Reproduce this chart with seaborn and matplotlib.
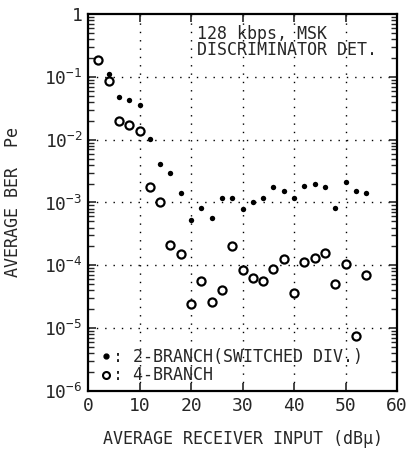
import numpy as np
import pandas as pd
import matplotlib
matplotlib.use("Agg")
import matplotlib.pyplot as plt
import seaborn as sns
from matplotlib.ticker import FixedLocator, FuncFormatter, LogLocator, NullFormatter
from matplotlib.lines import Line2D

# data
input_2branch = [4, 6, 8, 10, 12, 14, 16, 18, 20, 22, 24, 26, 28, 30, 32, 34,
                 36, 38, 40, 42, 44, 46, 48, 50, 52, 54]
ber_2branch = [0.109, 0.047, 0.042, 0.035, 0.0101, 0.0041, 0.0029, 0.0014,
               5.2e-4, 8.3e-4, 5.6e-4, 1.2e-3, 1.2e-3, 7.8e-4, 1.03e-3, 1.2e-3,
               1.78e-3, 1.5e-3, 1.2e-3, 1.84e-3, 2.0e-3, 1.78e-3, 8.2e-4, 2.1e-3,
               1.5e-3, 1.44e-3]
input_4branch = [2, 4, 6, 8, 10, 12, 14, 16, 18, 20, 22, 24, 26, 28, 30, 32, 34,
                 36, 38, 40, 42, 44, 46, 48, 50, 52, 54]
ber_4branch = [0.185, 0.085, 0.020, 0.017, 0.0138, 1.76e-3, 1.03e-3, 2.1e-4, 1.5e-4,
               2.4e-5, 5.7e-5, 2.6e-5, 4.0e-5, 2.0e-4, 8.5e-5, 6.3e-5, 5.7e-5,
               8.7e-5, 1.27e-4, 3.6e-5, 1.14e-4, 1.3e-4, 1.55e-4, 5.0e-5, 1.06e-4,
               7.5e-6, 7.1e-5]

df2 = pd.DataFrame({"x": input_2branch, "ber": ber_2branch})
df4 = pd.DataFrame({"x": input_4branch, "ber": ber_4branch})

sns.set_style("ticks")
plt.rcParams["font.family"] = ["DejaVu Sans Mono", "DejaVu Sans"]
plt.rcParams["mathtext.default"] = "regular"

fig = plt.figure(figsize=(4.14, 4.51), dpi=100)
ax = fig.add_axes([0.2126, 0.133, 0.7464, 0.836])

ax.set_yscale("log")
ax.set_xlim(0, 60)
ax.set_ylim(1e-6, 1)

# dotted grid
for gx in [10, 20, 30, 40, 50]:
    ax.axvline(gx, color="black", lw=1.0, ls=(0, (1, 5)), zorder=0)
for gy in [1e-1, 1e-2, 1e-3, 1e-4, 1e-5]:
    ax.axhline(gy, color="black", lw=1.0, ls=(0, (1, 5)), zorder=0)

sns.scatterplot(data=df4, x="x", y="ber", ax=ax, marker="o", s=34,
                facecolor="white", edgecolor="black", linewidth=1.6, zorder=3)
sns.scatterplot(data=df2, x="x", y="ber", ax=ax, marker="o", s=15,
                color="black", edgecolor="black", linewidth=0, zorder=4)

# ticks
ax.xaxis.set_major_locator(FixedLocator([0, 10, 20, 30, 40, 50, 60]))
ax.yaxis.set_major_locator(FixedLocator([1e-6, 1e-5, 1e-4, 1e-3, 1e-2, 1e-1, 1]))
ax.yaxis.set_minor_locator(LogLocator(base=10, subs=np.arange(2, 10), numticks=20))
ax.yaxis.set_minor_formatter(NullFormatter())


def fmt_y(v, pos):
    if v >= 1:
        return "1"
    return r"$10^{%d}$" % int(round(np.log10(v)))


ax.yaxis.set_major_formatter(FuncFormatter(fmt_y))
ax.tick_params(axis="both", which="major", direction="in", length=6, width=1.2,
               labelsize=13, top=True, right=True, pad=4)
ax.tick_params(axis="y", which="minor", direction="in", length=4, width=1.0,
               left=True, right=True)

for sp in ax.spines.values():
    sp.set_linewidth(1.6)
    sp.set_color("black")

ax.set_xlabel("AVERAGE RECEIVER INPUT (dB\u03bc)", fontsize=12, labelpad=11)
ax.set_ylabel("AVERAGE BER  Pe", fontsize=12, labelpad=16)

ax.text(21.2, 0.66, "128 kbps, MSK\nDISCRIMINATOR DET.", fontsize=12,
        va="top", ha="left", linespacing=0.85)

handles = [
    Line2D([], [], ls="none", marker="o", ms=3.5, color="black"),
    Line2D([], [], ls="none", marker="o", ms=5, mfc="white", mec="black", mew=1.5),
]
ax.legend(handles, [": 2-BRANCH(SWITCHED DIV.)", ": 4-BRANCH"], loc="lower left",
          frameon=False, fontsize=12, handlelength=0.6, handletextpad=0.1,
          labelspacing=0.05, borderaxespad=0.0, bbox_to_anchor=(0.02, 0.0))

fig.savefig("out.png", dpi=100)
